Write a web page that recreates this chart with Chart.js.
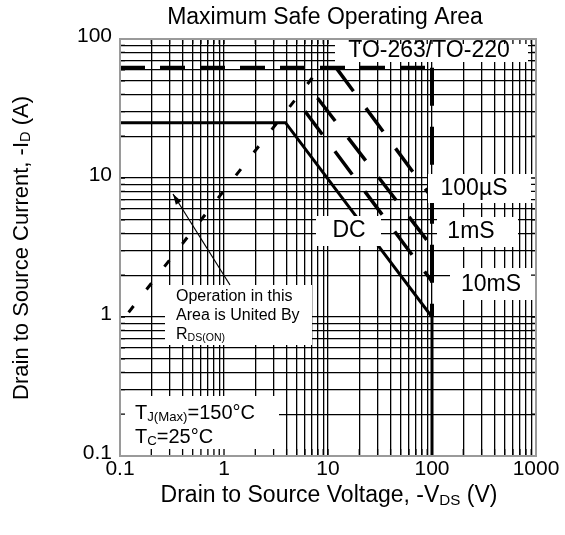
<!DOCTYPE html>
<html>
<head>
<meta charset="utf-8">
<script src="https://cdn.jsdelivr.net/npm/chart.js@4.4.1/dist/chart.umd.min.js"></script>
<style>
  html, body { margin: 0; padding: 0; background: #fff; }
  #wrap { width: 565px; height: 535px; }
</style>
</head>
<body>
<div id="wrap"><canvas id="soa"></canvas></div>
<script>
// axis tick labels
const xTickLabels = [0.1, 1, 10, 100, 1000];
const yTickLabels = [0.1, 1, 10, 100];

// limit lines: drain-source voltage (V) vs drain current (A)
const pkgV = [0.1, 100];      // TO-263/TO-220 package limit
const pkgI = [62, 62];
const bvV = [100, 100];       // breakdown voltage limit
const bvI = [62, 1];
const rdsV = [0.1, 8.4];      // Rds(on) limit
const rdsI = [0.9, 62];
const dcV = [0.1, 3.9, 100, 100];
const dcI = [25, 25, 1, 0.1];
const us100V = [12, 100];
const us100I = [62, 7.2];
const ms1V = [6.3, 100];
const ms1I = [47, 3.2];
const ms10V = [5.2, 100];
const ms10I = [35, 1.8];

const FONT = '"Liberation Sans", Arial, sans-serif';

function pts(xs, ys) {
  return xs.map((v, i) => ({ x: v, y: ys[i] }));
}

// gridlines at 1..9 x 10^n
function decadeTicks(min, max) {
  const out = [];
  for (let e = Math.round(Math.log10(min)); e < Math.round(Math.log10(max)); e++) {
    for (let k = 1; k < 10; k++) out.push(parseFloat((k * Math.pow(10, e)).toPrecision(6)));
  }
  out.push(max);
  return out;
}

function isLabel(v, list) {
  return list.some(t => Math.abs(t - v) < t * 1e-6);
}

function line(data, width, dash, offset) {
  return {
    data: data,
    showLine: true,
    borderColor: '#000',
    backgroundColor: '#000',
    borderWidth: width,
    borderDash: dash || [],
    borderDashOffset: offset || 0,
    pointRadius: 0,
    tension: 0,
    fill: false
  };
}

// text with subscripts: parts = [[text, isSub], ...]
function richText(ctx, parts, x, y, size, align) {
  const sub = size * 0.66;
  let w = 0;
  parts.forEach(p => {
    ctx.font = (p[1] ? sub : size) + 'px ' + FONT;
    w += ctx.measureText(p[0]).width;
  });
  let cx = align === 'center' ? x - w / 2 : x;
  ctx.textAlign = 'left';
  ctx.textBaseline = 'middle';
  parts.forEach(p => {
    ctx.font = (p[1] ? sub : size) + 'px ' + FONT;
    ctx.fillText(p[0], cx, p[1] ? y + size * 0.2 : y);
    cx += ctx.measureText(p[0]).width;
  });
}

const decor = {
  id: 'decor',
  afterDatasetsDraw(chart) {
    const { ctx, chartArea: a, scales } = chart;
    ctx.save();

    // white label boxes over grid and lines
    ctx.fillStyle = '#fff';
    [[335, 40, 193, 22], [428, 174, 108, 29], [437, 217, 81, 30], [450, 268, 86, 32],
     [316, 216, 65, 30], [165, 285, 147, 60], [121, 396, 158, 60]].forEach(b => ctx.fillRect(b[0], b[1], b[2], b[3]));

    ctx.fillStyle = '#000';
    ctx.textAlign = 'center';
    ctx.textBaseline = 'middle';
    ctx.font = '23px ' + FONT;
    ctx.fillText('TO-263/TO-220', 429, 51);
    ctx.fillText('100\u00b5S', 474, 189);
    ctx.fillText('1mS', 471, 232);
    ctx.fillText('10mS', 491, 285);
    ctx.fillText('DC', 349, 231);

    ctx.font = '16px ' + FONT;
    ctx.textAlign = 'left';
    ctx.fillText('Operation in this', 176, 297);
    ctx.fillText('Area is United By', 176, 316);
    richText(ctx, [['R', false], ['DS(ON)', true]], 176, 335, 16, 'left');

    richText(ctx, [['T', false], ['J(Max)', true], ['=150\u00b0C', false]], 135, 413, 20, 'left');
    richText(ctx, [['T', false], ['C', true], ['=25\u00b0C', false]], 135, 437, 20, 'left');

    // arrow to the Rds(on) line
    const ax0 = 230, ay0 = 285, ax1 = 173, ay1 = 194;
    ctx.strokeStyle = '#000';
    ctx.lineWidth = 1.2;
    ctx.beginPath();
    ctx.moveTo(ax0, ay0);
    ctx.lineTo(ax1, ay1);
    ctx.stroke();
    const ang = Math.atan2(ay1 - ay0, ax1 - ax0);
    ctx.beginPath();
    ctx.moveTo(ax1, ay1);
    ctx.lineTo(ax1 - 11 * Math.cos(ang - 0.3), ay1 - 11 * Math.sin(ang - 0.3));
    ctx.lineTo(ax1 - 11 * Math.cos(ang + 0.3), ay1 - 11 * Math.sin(ang + 0.3));
    ctx.closePath();
    ctx.fill();

    // inner ticks on all four edges
    ctx.lineWidth = 1.3;
    ctx.beginPath();
    scales.x.ticks.forEach(t => {
      const px = scales.x.getPixelForValue(t.value);
      ctx.moveTo(px, a.bottom); ctx.lineTo(px, a.bottom - 7);
      ctx.moveTo(px, a.top); ctx.lineTo(px, a.top + 5);
    });
    scales.y.ticks.forEach(t => {
      const py = scales.y.getPixelForValue(t.value);
      ctx.moveTo(a.left, py); ctx.lineTo(a.left + 5, py);
      ctx.moveTo(a.right, py); ctx.lineTo(a.right - 5, py);
    });
    ctx.stroke();

    // frame
    ctx.strokeStyle = '#9a9a9a';
    ctx.lineWidth = 2;
    ctx.strokeRect(a.left, a.top, a.right - a.left, a.bottom - a.top);

    // titles
    ctx.fillStyle = '#000';
    ctx.font = '23px ' + FONT;
    ctx.textAlign = 'center';
    ctx.textBaseline = 'middle';
    ctx.fillText('Maximum Safe Operating Area', 325, 18);
    richText(ctx, [['Drain to Source Voltage, -V', false], ['DS', true], [' (V)', false]], 329, 496, 23, 'center');
    ctx.save();
    ctx.translate(22, 248);
    ctx.rotate(-Math.PI / 2);
    richText(ctx, [['Drain to Source Current, -I', false], ['D', true], [' (A)', false]], 0, 0, 22, 'center');
    ctx.restore();

    ctx.restore();
  }
};

function axis(min, max, labels, extra) {
  return Object.assign({
    type: 'logarithmic',
    min: min,
    max: max,
    afterBuildTicks: s => { s.ticks = decadeTicks(min, max).map(v => ({ value: v })); },
    grid: { color: '#000', lineWidth: 1.3, drawTicks: false },
    border: { display: false },
    ticks: {
      autoSkip: false,
      maxRotation: 0,
      color: '#000',
      font: { family: 'Liberation Sans', size: 21 },
      callback: v => isLabel(v, labels) ? String(v) : ''
    }
  }, extra);
}

const xAxis = axis(0.1, 1000, xTickLabels, { position: 'bottom', afterFit: s => { s.height = 79; } });
xAxis.ticks.padding = 1;
const yAxis = axis(0.1, 100, yTickLabels, { position: 'left', afterFit: s => { s.width = 120; } });
yAxis.ticks.padding = 8;
yAxis.ticks.labelOffset = -3;

new Chart(document.getElementById('soa'), {
  type: 'scatter',
  data: {
    datasets: [
      line(pts(pkgV, pkgI), 4, [25, 15]),
      line(pts(bvV, bvI), 4, [38, 21]),
      line(pts(rdsV, rdsI), 3, [8, 21], 15),
      line(pts(dcV, dcI), 3),
      line(pts(us100V, us100I), 3.5, [29, 21]),
      line(pts(ms1V, ms1I), 3.5, [29, 21], 33),
      line(pts(ms10V, ms10I), 3.5, [29, 21], 39)
    ]
  },
  options: {
    responsive: true,
    maintainAspectRatio: false,
    animation: false,
    layout: { padding: { top: 39, right: 29, left: 0, bottom: 0 } },
    plugins: { legend: { display: false }, tooltip: { enabled: false }, title: { display: false } },
    scales: { x: xAxis, y: yAxis }
  },
  plugins: [decor]
});
</script>
</body>
</html>
